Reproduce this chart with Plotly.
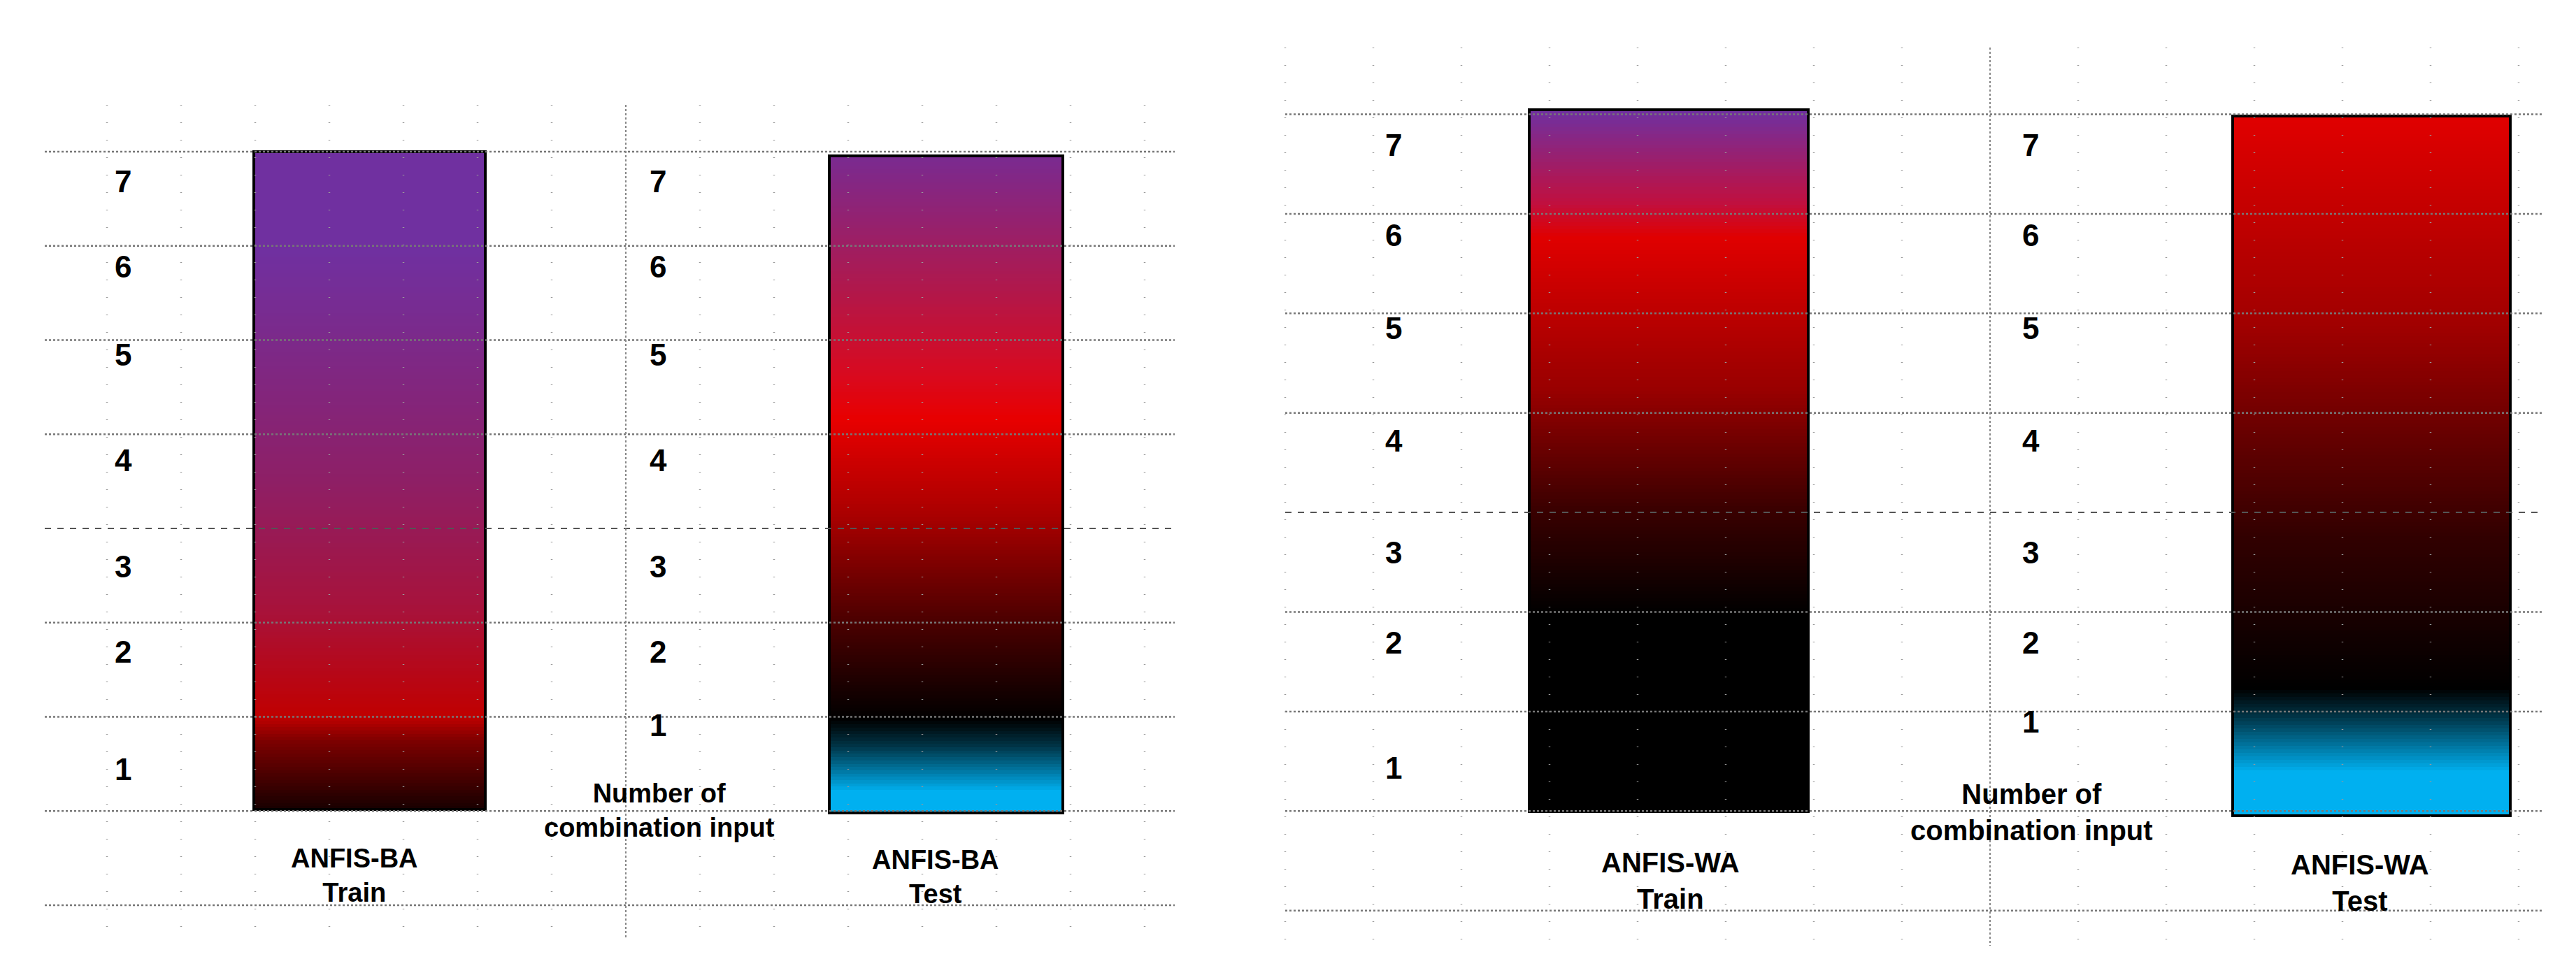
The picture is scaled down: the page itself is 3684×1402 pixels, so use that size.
import plotly.graph_objects as go
import numpy as np

W, H = 3684, 1402
FONT = "Liberation Sans Narrow, Liberation Sans, Arial"

tick_labels = ["7", "6", "5", "4", "3", "2", "1"]
bar_names = ["ANFIS-BA<br>Train", "ANFIS-BA<br>Test", "ANFIS-WA<br>Train", "ANFIS-WA<br>Test"]
axis_title = "Number of<br>combination input"

# colour stops, top (0) to bottom (1)
ba_train_stops = [(0.0, "#7030A0"), (0.15, "#7030A0"), (0.5, "#8E1F66"), (0.7, "#A8123A"),
                  (0.86, "#C00000"), (0.9, "#7A0000"), (1.0, "#1A0000")]
ba_test_stops = [(0.0, "#7A2A90"), (0.2, "#B0184C"), (0.33, "#D80A20"), (0.4, "#E80000"),
                 (0.55, "#A80000"), (0.7, "#500000"), (0.84, "#0A0000"), (0.86, "#000000"),
                 (0.9, "#003446"), (0.97, "#00B0F0"), (1.0, "#00B0F0")]
wa_train_stops = [(0.0, "#7030A0"), (0.13, "#C01040"), (0.18, "#E00000"), (0.4, "#980000"),
                  (0.57, "#3A0000"), (0.72, "#000000"), (1.0, "#000000")]
wa_test_stops = [(0.0, "#E00000"), (0.3, "#A00000"), (0.6, "#320000"), (0.82, "#000000"),
                 (0.86, "#003446"), (0.94, "#00B0F0"), (1.0, "#00B0F0")]

# bar pixel boxes (x0, x1, y_top, y_bottom)
bars = [(355, 686, 209, 1150, ba_train_stops),
        (1178, 1512, 215, 1155, ba_test_stops),
        (2179, 2578, 149, 1153, wa_train_stops),
        (3185, 3582, 158, 1159, wa_test_stops)]

fig = go.Figure()
shapes = []
N = 200
for (x0, x1, yt, yb, stops) in bars:
    yedges = np.linspace(yt, yb, N + 1)
    z = [[v] for v in np.linspace(0, 1, N)]
    fig.add_trace(go.Heatmap(x=[x0, x1], y=yedges, z=z, colorscale=[[s, c] for s, c in stops],
                             zmin=0, zmax=1, showscale=False, hoverinfo="skip"))
    shapes.append(dict(type="rect", x0=x0, x1=x1, y0=yt, y1=yb, line=dict(color="black", width=4),
                       layer="above"))

# grids
panels = [
    dict(cols=[145 + 106 * k for k in range(15)], rows=[209 + 134.75 * k for k in range(9)],
         hx=(56, 1672), vy=(142, 1335), dash_row=4, dash_col=7),
    dict(cols=[1830 + 126 * k for k in range(15)], rows=[155.5 + 142.4 * k for k in range(9)],
         hx=(1830, 3629), vy=(60, 1345), dash_row=4, dash_col=8),
]
for p in panels:
    for i, r in enumerate(p["rows"]):
        if i == p["dash_row"]:
            shapes.append(dict(type="line", x0=p["hx"][0], x1=p["hx"][1], y0=r, y1=r,
                               line=dict(color="#555", width=2, dash="dash"), layer="above"))
        else:
            shapes.append(dict(type="line", x0=p["hx"][0], x1=p["hx"][1], y0=r, y1=r,
                               line=dict(color="#777", width=2.5, dash="dot"), layer="above"))
    for j, c in enumerate(p["cols"]):
        if j == p["dash_col"]:
            shapes.append(dict(type="line", x0=c, x1=c, y0=p["vy"][0], y1=p["vy"][1],
                               line=dict(color="#888", width=2, dash="dot"), layer="above"))
        else:
            shapes.append(dict(type="line", x0=c, x1=c, y0=p["vy"][0], y1=p["vy"][1],
                               line=dict(color="#999", width=2.5, dash="1px,24px"), layer="above"))

ann = []
def txt(x, y, t, size=42):
    ann.append(dict(x=x, y=y, text=t, showarrow=False, xref="x", yref="y",
                    font=dict(family=FONT, size=size, color="black", weight="bold")))

left_y = [[251, 373, 499, 650, 802, 924, 1092], [251, 373, 499, 650, 802, 924, 1029],
          [199, 328, 461, 622, 782, 911, 1090], [199, 328, 461, 622, 782, 911, 1024]]
tick_x = [168, 933, 1985, 2896]
for tx, ys in zip(tick_x, left_y):
    for lab, y in zip(tick_labels, ys):
        txt(tx, y, lab, 44)

txt(499, 1244, bar_names[0], 38)
txt(1330, 1246, bar_names[1], 38)
txt(2381, 1252, bar_names[2], 40)
txt(3367, 1255, bar_names[3], 40)
txt(935, 1151, axis_title, 38)
txt(2897, 1154, axis_title, 40)

fig.update_layout(
    width=W, height=H, margin=dict(l=0, r=0, t=0, b=0),
    paper_bgcolor="white", plot_bgcolor="white",
    xaxis=dict(range=[0, W], visible=False, fixedrange=True),
    yaxis=dict(range=[H, 0], visible=False, fixedrange=True),
    shapes=shapes, annotations=ann, showlegend=False,
)
fig.write_html("out.html")
